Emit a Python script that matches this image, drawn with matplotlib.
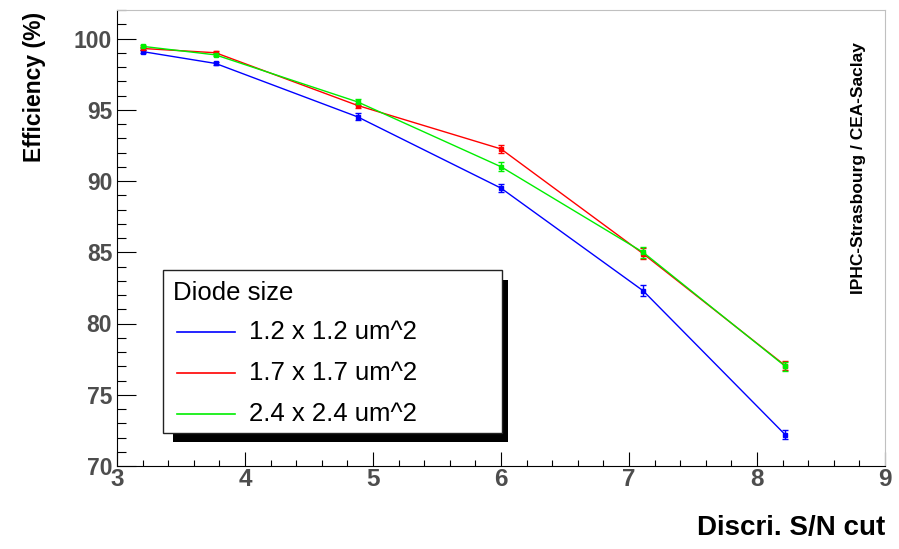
import matplotlib
matplotlib.use('Agg')
import matplotlib.pyplot as plt
from matplotlib.patches import Rectangle
from matplotlib.lines import Line2D
from matplotlib.ticker import MultipleLocator

plt.rcParams['font.family'] = ['Liberation Sans', 'DejaVu Sans']

# data
sn_cut = [3.2, 3.77, 4.88, 6.0, 7.11, 8.22]
eff_12 = [99.08, 98.25, 94.5, 89.5, 82.3, 72.2]
err_12 = [0.1, 0.1, 0.25, 0.3, 0.4, 0.3]
eff_17 = [99.3, 99.0, 95.3, 92.25, 84.9, 77.05]
err_17 = [0.1, 0.1, 0.2, 0.3, 0.4, 0.3]
eff_24 = [99.45, 98.85, 95.55, 91.0, 85.0, 77.0]
err_24 = [0.1, 0.1, 0.2, 0.3, 0.4, 0.3]
labels = ['1.2 x 1.2 um^2', '1.7 x 1.7 um^2', '2.4 x 2.4 um^2']
colors = ['#0000ff', '#ff0000', '#00ee00']

fig = plt.figure(figsize=(8.99, 5.49), dpi=100)
W, H = 899, 549
ax = fig.add_axes([117 / W, 1 - 466 / H, (885 - 117) / W, (466 - 10) / H])

for y, e, c in zip([eff_12, eff_17, eff_24], [err_12, err_17, err_24], colors):
    ax.errorbar(sn_cut, y, yerr=e, color=c, lw=1, marker='s', ms=3.3,
                capsize=2.5, elinewidth=1, capthick=1)

ax.set_xlim(3, 9)
ax.set_ylim(70, 102)
ax.xaxis.set_major_locator(MultipleLocator(1))
ax.xaxis.set_minor_locator(MultipleLocator(0.2))
ax.yaxis.set_major_locator(MultipleLocator(5))
ax.yaxis.set_minor_locator(MultipleLocator(1))
ax.tick_params(axis='y', which='major', direction='in', length=13.5, width=0.8,
               labelsize=16.5, labelcolor='#4d4d4d', pad=3.5)
ax.tick_params(axis='y', which='minor', direction='in', length=6.5, width=0.8)
ax.tick_params(axis='x', which='major', direction='in', length=10, width=0.8,
               labelsize=17.5, labelcolor='#4d4d4d', pad=1.5)
ax.tick_params(axis='x', which='minor', direction='in', length=4, width=0.8)
for lab in ax.get_xticklabels() + ax.get_yticklabels():
    lab.set_fontweight('bold')
ax.spines['top'].set_color('#c0c0c0')
ax.spines['right'].set_color('#c0c0c0')
ax.spines['left'].set_linewidth(0.8)
ax.spines['bottom'].set_linewidth(0.8)

fig.text(35 / W, 1 - 12 / H, 'Efficiency (%)', rotation=90, ha='center', va='top',
         fontsize=16.5, fontweight='bold')
fig.text(885 / W, 1 - 528 / H, 'Discri. S/N cut', ha='right', va='center',
         fontsize=20, fontweight='bold')
fig.text(859 / W, 1 - 168 / H, 'IPHC-Strasbourg / CEA-Saclay', rotation=90,
         ha='center', va='center', fontsize=12.5, fontweight='bold')

# legend box with ROOT-like shadow
def px(x, y):
    return x / W, 1 - y / H

fig.add_artist(Rectangle(px(173, 441.5), (508 - 173) / W, (441.5 - 280) / H,
                         transform=fig.transFigure, facecolor='black', edgecolor='none'))
fig.add_artist(Rectangle(px(163, 433), (502 - 163) / W, (433 - 270) / H,
                         transform=fig.transFigure, facecolor='white', edgecolor='#222222', lw=1))
fig.text(*px(173, 293), 'Diode size', ha='left', va='center', fontsize=18.5)
for yy, lab, c in zip([332, 373, 414], labels, colors):
    fig.add_artist(Line2D([177 / W, 235 / W], [1 - yy / H] * 2, color=c, lw=1.2,
                          transform=fig.transFigure))
    fig.text(*px(249, yy), lab, ha='left', va='center', fontsize=18.5)

fig.savefig('out.png', dpi=100)
